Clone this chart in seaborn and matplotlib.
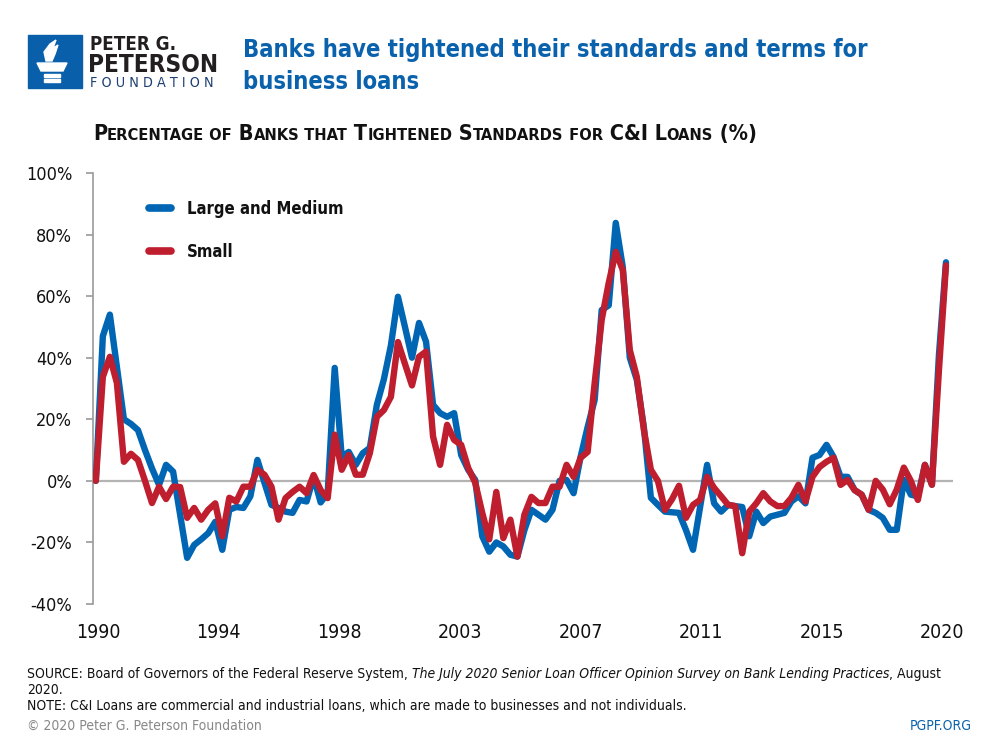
import numpy as np
import pandas as pd
import matplotlib
matplotlib.use("Agg")
import matplotlib.pyplot as plt
from matplotlib.lines import Line2D
from matplotlib.patches import Rectangle, Polygon
import seaborn as sns

# quarterly survey results, 1990 Q2 .. 2020 Q3
large_medium = [
    0, 47, 54, 37, 20, 18.5, 16.5, 10, 4, -1.3,
    5.2, 3, -11, -25, -20.8, -19, -17, -13.3, -22.4, -9.4,
    -8.5, -8.8, -5, 6.8, -0.6, -7.8, -8.8, -10, -10.4, -6.2,
    -6.7, 1.3, -7, -4, 36.7, 7.8, 9.4, 5.2, 9, 10.7,
    24.7, 33, 44, 59.8, 50, 40, 51.3, 45.2, 24.7, 22,
    20.8, 22, 8.4, 3.6, 0.3, -18, -23, -20, -21.3, -24,
    -24.6, -16, -9.4, -11, -12.6, -9.4, 0, 0.3, -4, 7.8,
    17.5, 26.3, 55.5, 57, 83.8, 69.5, 40, 32.8, 17.5, -5.5,
    -7.8, -10, -10.2, -10.4, -16, -22.4, -8.6, 5.2, -7.3, -10,
    -7.8, -8.2, -8.5, -18, -10, -13.7, -11.6, -11, -10.4, -6.7,
    -5, -7.3, 7.5, 8.4, 11.7, 7.8, 1.3, 1.3, -3, -4.5,
    -9.4, -10.4, -12, -15.9, -15.9, 0.3, -4.5, -5, 5.2, -1.2,
    41, 71,
]
small = [
    0, 33.8, 40.3, 31.8, 6.2, 8.8, 6.8, 0, -7.2, -1.9,
    -5.9, -1.9, -2, -12, -8.8, -12.6, -9.4, -7.3, -18, -5.5,
    -6.7, -1.9, -1.9, 3.6, 2, -1.9, -12.6, -5.6, -3.6, -1.9,
    -4, 1.9, -3, -5.6, 15, 3.6, 8.4, 2, 2, 9,
    20.8, 23, 27.3, 45.1, 38, 31, 40.3, 42, 14.4, 5.2,
    18.2, 13.3, 11.7, 4.2, -0.6, -10.4, -19, -3.6, -18.6, -12.6,
    -24.6, -11, -5.2, -7.2, -7.2, -1.9, -1.9, 5.2, 1.3, 7.5,
    9.4, 31.8, 52.3, 64.3, 74.4, 68.5, 42.5, 33.8, 16.6, 3.6,
    0, -9.4, -6, -1.6, -12, -7.8, -6.2, 1.3, -2.3, -5,
    -7.8, -8.2, -23.5, -10, -7.3, -4, -6.7, -8.2, -8.2, -5.5,
    -1.3, -6.7, 1.3, 4.5, 6.2, 7.5, -1.3, 0.3, -3, -4.5,
    -9.4, 0, -2.8, -7.6, -2.8, 4.3, 0, -6.2, 5.2, -1.3,
    36, 70,
]
series_names = ["Large and Medium", "Small"]
year_labels = ["1990", "1994", "1998", "2003", "2007", "2011", "2015", "2020"]
y_ticks = [-40, -20, 0, 20, 40, 60, 80, 100]

BLUE = "#0066b3"
RED = "#be1e2d"
NAVY = "#0a62ad"
DARK = "#231f20"

df = pd.DataFrame({
    "quarter": list(range(len(large_medium))) * 2,
    "value": large_medium + small,
    "series": [series_names[0]] * len(large_medium) + [series_names[1]] * len(small),
})

sns.set_style("white")
plt.rcParams["font.family"] = ["DejaVu Sans"]
plt.rcParams["font.stretch"] = "condensed"

fig = plt.figure(figsize=(10, 7.5), dpi=100)


def fx(px):
    return px / 1000


def fy(py):
    return 1 - py / 750


ax = fig.add_axes([fx(93), fy(604), fx(953) - fx(93), fy(173) - fy(604)])

ax.axhline(0, color="#b3b3b3", lw=1.6, zorder=1)
sns.lineplot(data=df, x="quarter", y="value", hue="series", hue_order=series_names,
             palette={series_names[0]: BLUE, series_names[1]: RED},
             linewidth=4.6, legend=False, ax=ax, zorder=3)
for ln in ax.lines:
    ln.set_solid_joinstyle("round")
    ln.set_solid_capstyle("round")

ax.set_xlim(-0.4, 122)
ax.set_ylim(-40, 100)
ax.set_yticks(y_ticks)
ax.set_yticklabels([f"{v}%" for v in y_ticks])
ax.set_xticks(np.linspace(0.3, 120.5, len(year_labels)))
ax.set_xticklabels(year_labels)
ax.set_xlabel("")
ax.set_ylabel("")
for s in ["top", "right", "bottom"]:
    ax.spines[s].set_visible(False)
ax.spines["left"].set_color("#9a9a9a")
ax.spines["left"].set_linewidth(1.2)
ax.tick_params(axis="y", length=5, width=1.2, color="#9a9a9a", labelsize=13,
               labelcolor="#111111", pad=10, left=True)
ax.tick_params(axis="x", length=0, labelsize=14, labelcolor="#111111", pad=14)
ax.grid(False)

handles = [Line2D([0], [0], color=BLUE, lw=5.5, solid_capstyle="round"),
           Line2D([0], [0], color=RED, lw=5.5, solid_capstyle="round")]
leg = ax.legend(handles, series_names, loc="upper left", bbox_to_anchor=(0.057, 0.953),
                frameon=False, handlelength=1.35, handletextpad=0.95, labelspacing=1.5,
                borderaxespad=0, prop={"size": 12, "weight": "bold", "stretch": "condensed"})
for t in leg.get_texts():
    t.set_color("#111111")

# logo
fig.add_artist(Rectangle((fx(28), fy(88)), fx(82) - fx(28), fy(35) - fy(88),
                         transform=fig.transFigure, color="#0a5fab", zorder=5))
cup = [(37, 63), (67, 63), (63, 71), (41, 71)]
fig.add_artist(Polygon([(fx(a), fy(b)) for a, b in cup], closed=True,
                       transform=fig.transFigure, color="white", zorder=6))
for yy in (74, 79):
    fig.add_artist(Rectangle((fx(44), fy(yy + 2.5)), fx(16), fy(yy) - fy(yy + 2.5),
                             transform=fig.transFigure, color="white", zorder=6))
flame = [(46, 61), (44, 52), (50, 44), (56, 40), (53, 48), (58, 45), (55, 54), (52, 61)]
fig.add_artist(Polygon([(fx(a), fy(b)) for a, b in flame], closed=True,
                       transform=fig.transFigure, color="white", zorder=6))
fig.text(fx(90), fy(50), "PETER G.", fontsize=13.5, weight="bold", color=DARK, va="baseline")
fig.text(fx(88), fy(72), "PETERSON", fontsize=17.5, weight="bold", color=DARK, va="baseline")
fig.text(fx(90), fy(87), "F O U N D A T I O N", fontsize=10.3, color="#1d3f73", va="baseline")

# title
fig.text(fx(243), fy(57), "Banks have tightened their standards and terms for",
         fontsize=17, weight="bold", color=NAVY, va="baseline")
fig.text(fx(243), fy(89), "business loans",
         fontsize=17, weight="bold", color=NAVY, va="baseline")


def chain(x, y, pieces, **kw):
    prev = fig.text(x, y, pieces[0][0], fontsize=pieces[0][1], va="baseline",
                    **{**kw, **pieces[0][2]})
    for txt, size, extra in pieces[1:]:
        prev = ax.annotate(txt, xy=(1, y), xycoords=(prev, "figure fraction"),
                           fontsize=size, va="baseline", ha="left",
                           annotation_clip=False, **{**kw, **extra})
    return prev


big, sm = 15.5, 11.8
sub_pieces = []
for i, word in enumerate(["Percentage", "of", "Banks", "that", "Tightened", "Standards",
                          "for", "C&I", "Loans", "(%)"]):
    lead = "" if i == 0 else " "
    if word in ("C&I", "(%)"):
        sub_pieces.append((lead + word, big, {}))
    elif word[0].islower():
        sub_pieces.append((lead + word.upper(), sm, {}))
    else:
        sub_pieces.append((lead + word[0], big, {}))
        sub_pieces.append((word[1:].upper(), sm, {}))
chain(fx(93), fy(140), sub_pieces, weight="bold", color="#111111")

# footer
foot = 10
chain(fx(27), fy(678), [
    ("SOURCE: Board of Governors of the Federal Reserve System, ", foot, {}),
    ("The July 2020 Senior Loan Officer Opinion Survey on Bank Lending Practices", foot,
     {"style": "italic"}),
    (", August", foot, {}),
], color="#111111")
fig.text(fx(27), fy(694), "2020.", fontsize=foot, color="#111111", va="baseline")
fig.text(fx(27), fy(710), "NOTE: C&I Loans are commercial and industrial loans, which are made "
         "to businesses and not individuals.", fontsize=foot, color="#111111", va="baseline")
fig.text(fx(27), fy(730), "\u00a9 2020 Peter G. Peterson Foundation", fontsize=foot,
         color="#888888", va="baseline")
fig.text(fx(972), fy(730), "PGPF.ORG", fontsize=foot, color=NAVY, va="baseline", ha="right")

fig.savefig("out.png", dpi=100)
